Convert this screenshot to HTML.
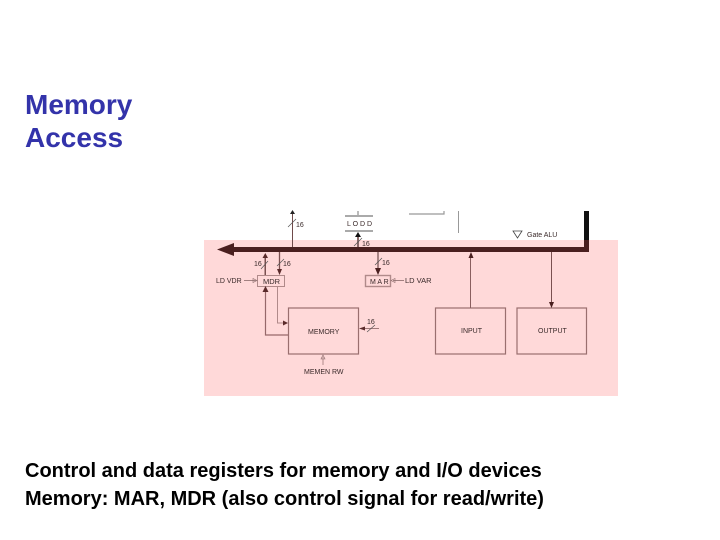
<!DOCTYPE html>
<html>
<head>
<meta charset="utf-8">
<style>
html,body{margin:0;padding:0;background:#fff}
body{width:720px;height:540px;overflow:hidden;position:relative;font-family:"Liberation Sans",sans-serif}
.t{position:absolute;left:25px;font-weight:bold;white-space:nowrap}
.h{color:#3333aa;font-size:28px;line-height:33px}
.b{color:#000;font-size:20px;line-height:28px}
svg{position:absolute;left:0;top:0;filter:blur(0.35px)}
svg text{font-family:"Liberation Sans",sans-serif;font-size:7px;fill:#3a2a2a}
</style>
</head>
<body>
<svg width="720" height="540" viewBox="0 0 720 540" xmlns="http://www.w3.org/2000/svg">
  <rect x="204" y="240" width="414" height="156" fill="#ffd9d9"/>

  <!-- top fragments -->
  <rect x="345" y="215" width="28" height="2" fill="#aaaaaa"/>
  <rect x="345" y="230" width="28" height="2" fill="#aaaaaa"/>
  <line x1="358" y1="211" x2="358" y2="215" stroke="#777"/>
  <text x="347" y="226">L O D D</text>
  <path d="M409 214H444V211" fill="none" stroke="#999" stroke-width="1.2"/>
  <line x1="458.500" y1="211" x2="458.500" y2="233" stroke="#999"/>
  <path d="M513 231H522L517.500 238Z" fill="none" stroke="#444" stroke-width="0.8"/>
  <text x="527" y="237">Gate ALU</text>

  <!-- bus -->
  <rect x="584" y="211" width="5" height="29" fill="#111"/>
  <rect x="584" y="240" width="5" height="12" fill="#4a1f1f"/>
  <rect x="232" y="247" width="357" height="5" fill="#4a1f1f"/>
  <path d="M217 249.500L234 243V256Z" fill="#4a1f1f"/>

  <!-- top up arrow -->
  <line x1="292.500" y1="213" x2="292.500" y2="247" stroke="#6f4a4a"/>
  <path d="M292.500 210L290 214H295Z" fill="#222"/>
  <line x1="288" y1="227" x2="296" y2="219" stroke="#555" stroke-width="0.7"/>
  <text x="296" y="227">16</text>

  <!-- LDDD arrow -->
  <rect x="357" y="235" width="2" height="12" fill="#8a6a6a"/>
  <path d="M358 232L355 237H361Z" fill="#111"/>
  <line x1="354" y1="246" x2="362" y2="238" stroke="#555" stroke-width="0.7"/>
  <text x="362" y="246">16</text>

  <!-- MDR -->
  <rect x="257.500" y="275.500" width="27" height="11" fill="#ffd9d9" stroke="#b08a8a"/>
  <text x="263" y="284" style="font-size:7.500px">MDR</text>
  <text x="216" y="283">LD VDR</text>
  <line x1="244" y1="280.500" x2="256" y2="280.500" stroke="#8a6a6a" stroke-width="0.8"/>
  <path d="M257 280.500L253 278.500V282.500Z" fill="none" stroke="#8a6a6a" stroke-width="0.6"/>
  <rect x="264.500" y="256" width="1.500" height="19" fill="#7a5050"/>
  <path d="M265.300 253L262.500 258H268Z" fill="#5a2a2a"/>
  <line x1="261" y1="269" x2="268" y2="261" stroke="#555" stroke-width="0.7"/>
  <text x="254" y="266">16</text>
  <line x1="279.500" y1="252" x2="279.500" y2="270" stroke="#7a5050" stroke-width="1.300"/>
  <path d="M279.500 275L277 269H282Z" fill="#5a2a2a"/>
  <line x1="277" y1="266" x2="284" y2="259" stroke="#555" stroke-width="0.7"/>
  <text x="283" y="266">16</text>

  <!-- MAR -->
  <rect x="365.500" y="275.500" width="25" height="11" fill="#ffd9d9" stroke="#b08a8a" stroke-width="1.400"/>
  <text x="370" y="284">M A R</text>
  <text x="405" y="283" style="font-size:7.500px">LD VAR</text>
  <line x1="393" y1="280.500" x2="404" y2="280.500" stroke="#8a6a6a" stroke-width="0.8"/>
  <path d="M391 280.500L395 278.500V282.500Z" fill="none" stroke="#8a6a6a" stroke-width="0.6"/>
  <rect x="377" y="252" width="2" height="18" fill="#a98585"/>
  <path d="M378 275L375 268H381Z" fill="#4a1f1f"/>
  <line x1="375" y1="265" x2="382" y2="258" stroke="#555" stroke-width="0.7"/>
  <text x="382" y="265">16</text>

  <!-- Memory -->
  <rect x="288.500" y="308" width="70" height="46" fill="#ffd9d9" stroke="#9a6f6f" stroke-width="1.200"/>
  <text x="308" y="334">MEMORY</text>
  <path d="M288 335H265.500V290" fill="none" stroke="#96686a" stroke-width="1.200"/>
  <path d="M265.500 286L262.500 292H268.500Z" fill="#5a2a2a"/>
  <path d="M277.500 287V323H284" fill="none" stroke="#b08a8a" stroke-width="1"/>
  <path d="M288 323L283 320.500V325.500Z" fill="#5a2a2a"/>
  <line x1="363" y1="328.500" x2="379" y2="328.500" stroke="#a07a7a"/>
  <path d="M359 328.500L365 326.500V330.500Z" fill="#5a2a2a"/>
  <line x1="367" y1="332" x2="375" y2="325" stroke="#555" stroke-width="0.7"/>
  <text x="367" y="324">16</text>
  <line x1="323" y1="357" x2="323" y2="365" stroke="#b08a8a"/>
  <path d="M323 355L321 359H325Z" fill="none" stroke="#8a6a6a" stroke-width="0.6"/>
  <text x="304" y="374">MEMEN  RW</text>

  <!-- Input -->
  <rect x="435.500" y="308" width="70" height="46" fill="#ffd9d9" stroke="#9a6f6f" stroke-width="1.200"/>
  <text x="461" y="333">INPUT</text>
  <line x1="470.500" y1="255" x2="470.500" y2="308" stroke="#8a5f5f" stroke-width="1"/>
  <path d="M471 252L468.500 258H473.500Z" fill="#4a1f1f"/>

  <!-- Output -->
  <rect x="517" y="308" width="69.500" height="46" fill="#ffd9d9" stroke="#9a6f6f" stroke-width="1.200"/>
  <text x="538" y="333">OUTPUT</text>
  <line x1="551.500" y1="252" x2="551.500" y2="303" stroke="#7a5050"/>
  <path d="M551.500 308L549 302H554Z" fill="#4a1f1f"/>
</svg>

<div class="t h" style="top:88px">Memory<br>Access</div>
<div class="t b" style="top:457px">Control and data registers for memory and I/O devices<br>Memory: MAR, MDR (also control signal for read/write)</div>
</body>
</html>
